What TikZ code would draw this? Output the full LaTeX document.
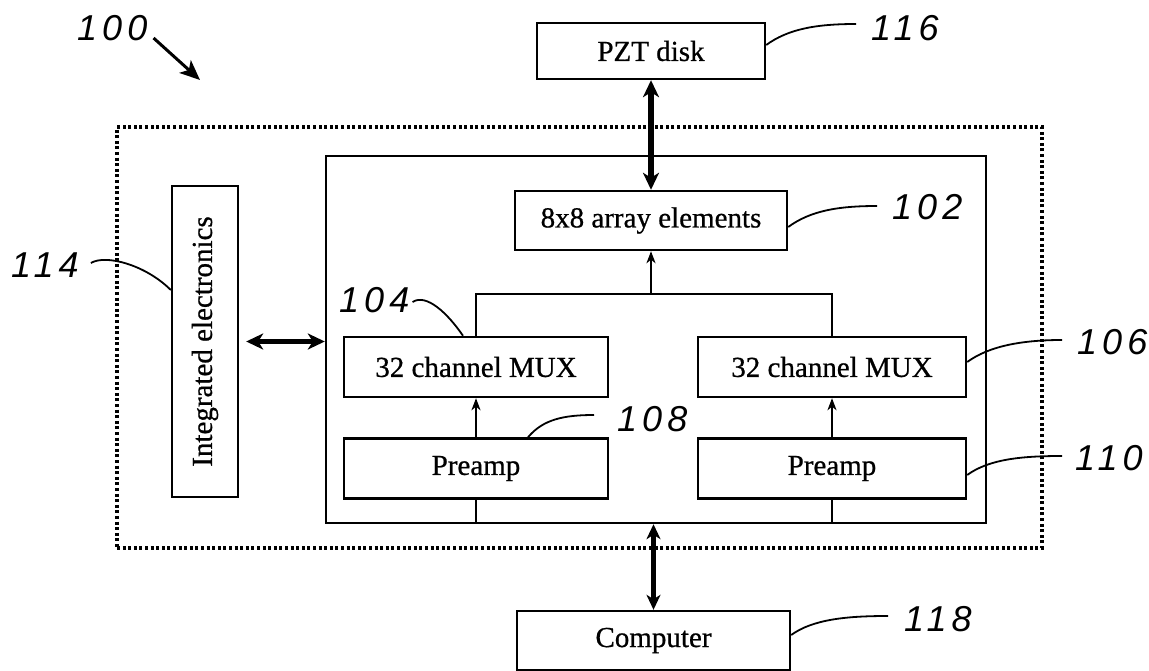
\documentclass[tikz,border=0pt]{standalone}
\usepackage{fontspec}
\usepackage{graphicx}
\setmainfont{Liberation Serif}
\newfontfamily\boxfont[FakeBold=0.7]{Liberation Serif}
\newfontfamily\numfont[LetterSpace=14]{Liberation Sans}
\usetikzlibrary{arrows.meta}
\begin{document}
\begin{tikzpicture}[x=1pt,y=-1pt,
  box/.style={draw, line width=2.4pt, inner sep=0pt, font=\boxfont\fontsize{29}{32}\selectfont},
  num/.style={inner sep=0pt, anchor=west, font=\numfont\itshape\fontsize{36}{36}\selectfont},
  leader/.style={line width=1.8pt},
  wire/.style={line width=2pt},
  thinarrow/.style={line width=2pt, -{Stealth[length=12pt,width=9pt,inset=3.5pt]}},
  thickarrow/.style={line width=5.5pt, {Stealth[length=17pt,width=16pt,inset=5pt]}-{Stealth[length=17pt,width=16pt,inset=5pt]}},
  medarrow/.style={line width=4.2pt, {Stealth[length=15pt,width=14pt,inset=4.5pt]}-{Stealth[length=15pt,width=14pt,inset=4.5pt]}},
  bigarrow/.style={line width=3pt, -{Stealth[length=20pt,width=17pt,inset=5pt]}},
  dottedbox/.style={draw, line width=3.4pt, dash pattern=on 3pt off 2.6pt}
]
\useasboundingbox (0,0) rectangle (1149,671);
\fill[white] (0,0) rectangle (1149,671);

% containers
\node[dottedbox, minimum width=925pt, minimum height=421pt] (outer) at (579.5,337.5) {};
\node[draw, line width=2.4pt, minimum width=660pt, minimum height=367pt] (inner) at (656,339.5) {};

% blocks
\node[box, minimum width=228pt, minimum height=56pt] (pzt) at (651,51) {PZT disk};
\node[box, minimum width=272pt, minimum height=59pt] (arr) at (651,220.5) {8x8 array elements};
\node[box, minimum width=264pt, minimum height=60pt] (muxl) at (476,367) {32 channel MUX};
\node[box, minimum width=268pt, minimum height=60pt] (muxr) at (832,367) {32 channel MUX};
\node[box, minimum width=264pt, minimum height=60pt] (prel) at (476,468.5) {Preamp};
\node[box, minimum width=268pt, minimum height=60pt] (prer) at (832,468.5) {Preamp};
\node[box, minimum width=66pt, minimum height=311pt] (integ) at (205,341.5) {\rotatebox{90}{Integrated electronics}};
\node[box, minimum width=273pt, minimum height=59pt] (comp) at (653.5,640.5) {Computer};

% labels
\node[num] (l100) at (77,28) {100};
\node[num] (l114) at (11,265) {114};
\node[num] (l104) at (339,300) {104};
\node[num] (l108) at (617,419) {108};
\node[num] (l116) at (871,28) {116};
\node[num] (l102) at (892,207) {102};
\node[num] (l106) at (1077,342) {106};
\node[num] (l110) at (1075,458) {110};
\node[num] (l118) at (904,619) {118};

% connectors
\coordinate (j) at (651,294);
\draw[wire] (muxl.north) -- (muxl.north |- j) -- (muxr.north |- j) -- (muxr.north);
\draw[thinarrow] (j) -- (arr.south);
\draw[thinarrow] (prel.north) -- (muxl.south);
\draw[thinarrow] (prer.north) -- (muxr.south);
\draw[wire] (prel.south) -- (prel.south |- inner.south);
\draw[wire] (prer.south) -- (prer.south |- inner.south);
\draw[thickarrow] (pzt.south) -- (arr.north);
\draw[thickarrow, shorten <=7pt] (integ.east) -- (integ.east -| inner.west);
\draw[medarrow] (comp.north) -- (comp.north |- inner.south);

% 100 pointer
\coordinate (a100) at (200,80);
\draw[bigarrow] ([xshift=6pt,yshift=-10pt]l100.east) -- (a100);

% leader lines
\draw[leader] ([yshift=6pt]pzt.east) .. controls +(22,-16) and +(-40,0) .. ([xshift=-15pt,yshift=4pt]l116.west);
\draw[leader] ([yshift=-6.5pt]arr.east) .. controls +(22,-16) and +(-40,0) .. ([xshift=-15pt,yshift=1pt]l102.west);
\draw[leader] ([yshift=5pt]muxr.east) .. controls +(22,-16) and +(-40,0) .. ([xshift=-15pt,yshift=2pt]l106.west);
\draw[leader] ([yshift=-6.5pt]prer.east) .. controls +(22,-16) and +(-40,0) .. ([xshift=-13pt,yshift=2pt]l110.west);
\draw[leader] ([yshift=5.5pt]comp.east) .. controls +(22,-16) and +(-40,0) .. ([xshift=-16pt,yshift=3pt]l118.west);
\draw[leader] ([xshift=52pt]prel.north) .. controls +(15,-18) and +(-30,0) .. ([xshift=-23pt,yshift=4pt]l108.west);
\draw[leader] ([xshift=3pt,yshift=-2pt]l104.east) .. controls +(14,-9) and +(-15,-22) .. ([xshift=-13pt]muxl.north);
\draw[leader] ([xshift=12pt,yshift=2pt]l114.east) .. controls +(15,-9) and +(-25,-25) .. ([yshift=51.5pt]integ.west);
\end{tikzpicture}
\end{document}
